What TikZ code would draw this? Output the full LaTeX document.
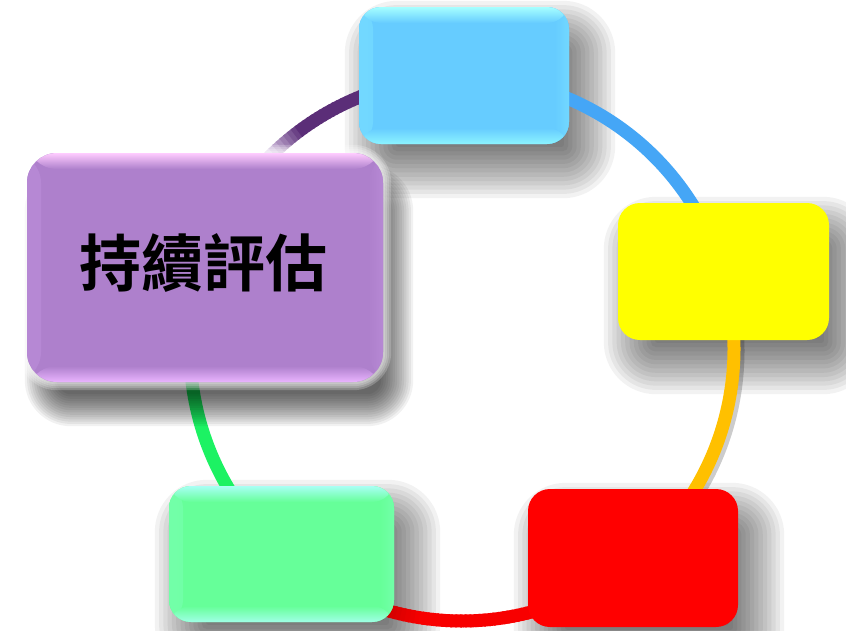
\documentclass[tikz,border=0pt]{standalone}
\usepackage{fontspec}
\newfontfamily\cjkb{Noto Sans CJK TC Bold}
\usetikzlibrary{calc}
\definecolor{blueMain}{HTML}{66CCFF}
\definecolor{blueRim}{HTML}{A6FFFF}
\definecolor{blueRimB}{HTML}{8CF4FF}
\definecolor{blueSide}{HTML}{72D8FF}
\definecolor{greenMain}{HTML}{66FF99}
\definecolor{greenRim}{HTML}{A8FFF4}
\definecolor{greenRimB}{HTML}{A0FFE6}
\definecolor{greenSide}{HTML}{72FFA8}
\definecolor{purpMain}{HTML}{AE80CC}
\definecolor{purpRim}{HTML}{FFCCFF}
\definecolor{purpRimB}{HTML}{EAB4FF}
\definecolor{purpSide}{HTML}{B688D4}
\definecolor{yelBox}{HTML}{FFFF00}
\definecolor{redBox}{HTML}{FF0000}
\definecolor{arcBlue}{HTML}{45A6F6}
\definecolor{arcYel}{HTML}{FFC000}
\definecolor{arcRed}{HTML}{F80000}
\definecolor{arcRedD}{HTML}{B80000}
\definecolor{arcGreen}{HTML}{1CF263}
\definecolor{arcPurp}{HTML}{5B2E78}
\definecolor{arcPurpL}{HTML}{DCCCE8}
\pgfdeclarelayer{shadA}
\pgfdeclarelayer{arcs}
\pgfdeclarelayer{shadB}
\pgfsetlayers{shadA,arcs,shadB,main}
\tikzset{
  box/.style={rectangle, inner sep=0pt, draw=none},
  arcline/.style={line width=13pt},
  arcshadow/.style={line width=13pt, black, opacity=0.2},
  rims/.style n args={4}{fill=#1, path picture={
    \shade[left color=#4, right color=#1] (path picture bounding box.south west) rectangle ([xshift=14pt]path picture bounding box.north west);
    \shade[right color=#4, left color=#1] (path picture bounding box.south east) rectangle ([xshift=-14pt]path picture bounding box.north east);
    \shade[top color=#2, bottom color=#1] (path picture bounding box.north west) rectangle ([yshift=-16pt]path picture bounding box.north east);
    \shade[bottom color=#3, top color=#1] (path picture bounding box.south west) rectangle ([yshift=16pt]path picture bounding box.south east);
  }},
}
% #1 node, #2 dx, #3 dy, #4 blur, #5 opacity per layer, #6 corner radius
\newcommand\boxshadow[6]{%
  \foreach \k in {0,...,14}{%
    \pgfmathsetmacro\ee{#4*(1-\k/7)}%
    \pgfmathsetmacro\rr{max(2,#6+\ee)}%
    \fill[black, opacity=#5, rounded corners=\rr pt]
      ([shift={({#2-\ee},{#3-\ee})}]#1.north west) rectangle ([shift={({#2+\ee},{#3+\ee})}]#1.south east);
  }}
\begin{document}
\begin{tikzpicture}[x=1pt,y=-1pt]
\useasboundingbox (0,0) rectangle (846,630);
% boxes
\node[box, rounded corners=22pt, minimum width=210pt, minimum height=137pt,
      rims={blueMain}{blueRim}{blueRimB}{blueSide}] (blue) at (464,75.5) {};
\node[box, rounded corners=22pt, minimum width=211pt, minimum height=137pt, fill=yelBox] (yellow) at (723.5,271.5) {};
\node[box, rounded corners=22pt, minimum width=210pt, minimum height=138pt, fill=redBox] (red) at (633,558) {};
\node[box, rounded corners=22pt, minimum width=225pt, minimum height=136pt,
      rims={greenMain}{greenRim}{greenRimB}{greenSide}] (green) at (281.5,554) {};
\node[box, rounded corners=30pt, minimum width=356pt, minimum height=229pt,
      rims={purpMain}{purpRim}{purpRimB}{purpSide}] (purple) at (205,267.5) {};
\node[font=\cjkb\fontsize{62}{70}\selectfont, text=black, inner sep=0pt] (label) at (203.5,262.5) {持續評估};
% circle geometry
\coordinate (O) at (462,349);
\coordinate (b1) at ($(O)+(-72:272)$);
\coordinate (y1) at ($(O)+(-8:272)$);
\coordinate (g1) at ($(O)+(145:272)$);
\begin{pgfonlayer}{shadA}
  \fill[white] (0,0) rectangle (846,630);
  \boxshadow{blue}{16}{24}{30}{0.05}{22}
  \boxshadow{yellow}{16}{24}{30}{0.05}{22}
  \boxshadow{red}{16}{24}{30}{0.05}{22}
  \boxshadow{green}{16}{24}{30}{0.05}{22}
\end{pgfonlayer}
\begin{pgfonlayer}{arcs}
  \foreach \a/\b in {-8/36}
    \draw[arcshadow] ($(O)+(\a:272)+(4,2)$) arc[start angle=\a, end angle=\b, radius=272];
  % purple arc with fade toward the purple box
  \foreach \a in {-137,-136,...,-106}{
    \pgfmathsetmacro\fr{min(100,max(0,(\a+135)*100/8))}
    \pgfmathsetmacro\bb{\a+1.4}
    \draw[arcline, color=arcPurp!\fr!arcPurpL] ($(O)+(\a:272)$) arc[start angle=\a, end angle=\bb, radius=272];
  }
  \draw[arcline, arcBlue] (b1) arc[start angle=-72, end angle=-28, radius=272];
  \draw[arcline, arcYel] (y1) arc[start angle=-8, end angle=36, radius=272];
  % red arc, darker toward the green box
  \foreach \a in {72,73,...,111}{
    \pgfmathsetmacro\fr{min(100,max(0,(\a-98)*100/12))}
    \pgfmathsetmacro\bb{\a+1.4}
    \draw[arcline, color=arcRedD!\fr!arcRed] ($(O)+(\a:272)$) arc[start angle=\a, end angle=\bb, radius=272];
  }
  \draw[arcline, arcGreen] (g1) arc[start angle=145, end angle=178, radius=272];
\end{pgfonlayer}
\begin{pgfonlayer}{shadB}
  \boxshadow{purple}{14}{28}{16}{0.055}{30}
  \foreach \g in {2,4,6,8}
    \fill[white, opacity=0.22, rounded corners={30+\g}]
      ([shift={(-\g,-\g)}]purple.north west) rectangle ([shift={(\g,\g)}]purple.south east);
\end{pgfonlayer}
\end{tikzpicture}
\end{document}
